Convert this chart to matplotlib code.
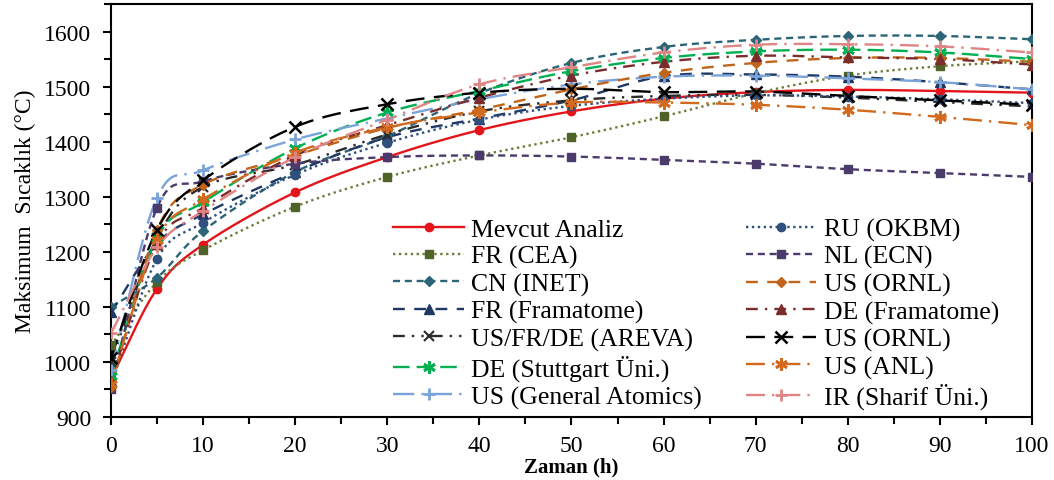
import numpy as np
import matplotlib
matplotlib.use("Agg")
import matplotlib.pyplot as plt
from matplotlib.ticker import MultipleLocator

plt.rcParams['font.family'] = ['Liberation Serif', 'DejaVu Serif']
plt.rcParams['mathtext.fontset'] = 'stix'

t = [0, 5, 10, 20, 30, 40, 50, 60, 70, 80, 90, 100]

labels = ["Mevcut Analiz", "FR (CEA)", "CN (INET)", "FR (Framatome)",
          "US/FR/DE (AREVA)", "DE (Stuttgart Üni.)", "US (General Atomics)",
          "RU (OKBM)", "NL (ECN)", "US (ORNL)", "DE (Framatome)",
          "US (ORNL)", "US (ANL)", "IR (Sharif Üni.)"]

mevcut   = [970, 1133, 1213, 1308, 1372, 1421, 1455, 1478, 1490, 1494, 1492, 1489]
fr_cea   = [1030, 1145, 1203, 1282, 1336, 1375, 1408, 1446, 1488, 1520, 1537, 1546]
cn_inet  = [1100, 1153, 1238, 1345, 1410, 1488, 1543, 1572, 1585, 1592, 1592, 1586]
fr_fra   = [1090, 1215, 1268, 1345, 1408, 1442, 1475, 1519, 1522, 1518, 1508, 1495]
areva    = [1000, 1225, 1318, 1358, 1413, 1455, 1475, 1483, 1485, 1480, 1472, 1464]
stutt    = [975, 1225, 1290, 1388, 1453, 1492, 1528, 1552, 1564, 1567, 1562, 1550]
ga       = [985, 1298, 1348, 1404, 1442, 1477, 1504, 1518, 1520, 1515, 1508, 1495]
ru_okbm  = [960, 1187, 1253, 1340, 1398, 1440, 1465, 1478, 1484, 1482, 1477, 1470]
nl_ecn   = [950, 1280, 1328, 1360, 1372, 1375, 1373, 1367, 1360, 1350, 1343, 1336]
ornl_d   = [955, 1240, 1322, 1375, 1425, 1458, 1495, 1525, 1543, 1552, 1552, 1545]
de_fra   = [965, 1215, 1280, 1375, 1430, 1480, 1520, 1545, 1556, 1553, 1550, 1540]
ornl_x   = [1008, 1240, 1330, 1427, 1468, 1489, 1496, 1490, 1491, 1483, 1475, 1467]
anl      = [960, 1222, 1295, 1380, 1426, 1453, 1471, 1471, 1467, 1458, 1445, 1430]
sharif   = [1052, 1208, 1274, 1372, 1440, 1504, 1535, 1562, 1576, 1577, 1573, 1562]

series = [mevcut, fr_cea, cn_inet, fr_fra, areva, stutt, ga,
          ru_okbm, nl_ecn, ornl_d, de_fra, ornl_x, anl, sharif]

ast = (6, 2, 0)
styles = [
    dict(color='#e3151b', ls='-', marker='o', ms=6),
    dict(color='#6b7d3a', ls=(0, (1, 1.5)), marker='s', ms=6, mfc='#4f6228'),
    dict(color='#2c6577', ls=(0, (3, 2)), marker='D', ms=5.5),
    dict(color='#1f3864', ls=(0, (5, 4)), marker='^', ms=6.5),
    dict(color='#2b2b2b', ls=(0, (5, 3, 1, 3, 1, 3)), marker='x', ms=7, mew=1.5),
    dict(color='#00b050', ls=(0, (7, 3)), marker=ast, ms=9, mew=2),
    dict(color='#7aa3d9', ls=(0, (9, 3, 1, 3)), marker='+', ms=9, mew=2),
    dict(color='#2f4f7f', ls=(0, (1, 1.5)), marker='o', ms=6),
    dict(color='#4b3a6c', ls=(0, (3, 2)), marker='s', ms=6),
    dict(color='#c0651b', ls=(0, (5, 4)), marker='D', ms=5.5),
    dict(color='#7b2c2c', ls=(0, (5, 3, 1, 3)), marker='^', ms=6.5),
    dict(color='#000000', ls=(0, (8, 4)), marker='x', ms=8, mew=1.8),
    dict(color='#d2691e', ls=(0, (8, 3, 1, 3)), marker=ast, ms=9, mew=2),
    dict(color='#e08585', ls=(0, (8, 3, 1, 3)), marker='+', ms=9, mew=2),
]


def smooth(x, y, n=20):
    x = np.asarray(x, float)
    y = np.asarray(y, float)
    xs, ys = [], []
    N = len(x)
    for i in range(N - 1):
        p0 = max(i - 1, 0)
        p3 = min(i + 2, N - 1)
        mx0 = (x[i + 1] - x[p0]) / 2.0 if i > 0 else (x[i + 1] - x[i])
        my0 = (y[i + 1] - y[p0]) / 2.0 if i > 0 else (y[i + 1] - y[i])
        mx1 = (x[p3] - x[i]) / 2.0 if i + 2 < N else (x[i + 1] - x[i])
        my1 = (y[p3] - y[i]) / 2.0 if i + 2 < N else (y[i + 1] - y[i])
        s = np.linspace(0, 1, n, endpoint=False)
        h00 = 2 * s**3 - 3 * s**2 + 1
        h10 = s**3 - 2 * s**2 + s
        h01 = -2 * s**3 + 3 * s**2
        h11 = s**3 - s**2
        xs.append(h00 * x[i] + h10 * mx0 + h01 * x[i + 1] + h11 * mx1)
        ys.append(h00 * y[i] + h10 * my0 + h01 * y[i + 1] + h11 * my1)
    xs.append([x[-1]])
    ys.append([y[-1]])
    return np.concatenate(xs), np.concatenate(ys)


fig = plt.figure(figsize=(10.54, 4.81), dpi=100)
ax = fig.add_axes([0.1053, 0.131, 0.8738, 0.8586])

handles = []
for lab, vals, st in zip(labels, series, styles):
    st = dict(st)
    color = st.pop('color')
    ls = st.pop('ls')
    marker = st.pop('marker')
    ms = st.pop('ms')
    mew = st.pop('mew', 1.0)
    mfc = st.pop('mfc', color)
    xs, ys = smooth(t, vals)
    ax.plot(xs, ys, color=color, ls=ls, lw=1.7, zorder=2)
    ax.plot(t, vals, ls='none', marker=marker, ms=ms, mew=mew,
            color=color, mfc=mfc, mec=mfc, zorder=3)
    h, = ax.plot([], [], color=color, ls=ls, lw=1.7, marker=marker, ms=ms,
                 mew=mew, mfc=mfc, mec=mfc, label=lab)
    handles.append(h)

ax.set_xlim(0, 100)
ax.set_ylim(900, 1650)
ax.xaxis.set_major_locator(MultipleLocator(10))
ax.xaxis.set_minor_locator(MultipleLocator(5))
ax.yaxis.set_major_locator(MultipleLocator(100))
ax.yaxis.set_minor_locator(MultipleLocator(50))
ax.set_yticks([900, 1000, 1100, 1200, 1300, 1400, 1500, 1600])
ax.tick_params(axis='both', which='major', length=6, width=1.5, labelsize=17,
               direction='out')
ax.tick_params(axis='y', which='major', pad=8)
ax.tick_params(axis='x', which='major', pad=7)
ax.tick_params(axis='both', which='minor', length=5, width=1.5, direction='out')
ax.tick_params(top=False, right=False, which='both')
for sp in ax.spines.values():
    sp.set_linewidth(1.5)

ax.set_xlabel("Zaman (h)", fontsize=15, fontweight='bold', labelpad=0)
ax.set_ylabel("Maksimum  Sıcaklık (°C)", fontsize=17, labelpad=6)

leg = ax.legend(handles=handles, ncol=2, loc='lower right',
                bbox_to_anchor=(0.978, -0.012), frameon=False,
                prop={'size': 18.5},
                handlelength=2.75, handletextpad=0.28, labelspacing=0.16,
                columnspacing=1.7, borderaxespad=0.1)

fig.savefig("out.png", dpi=100)
